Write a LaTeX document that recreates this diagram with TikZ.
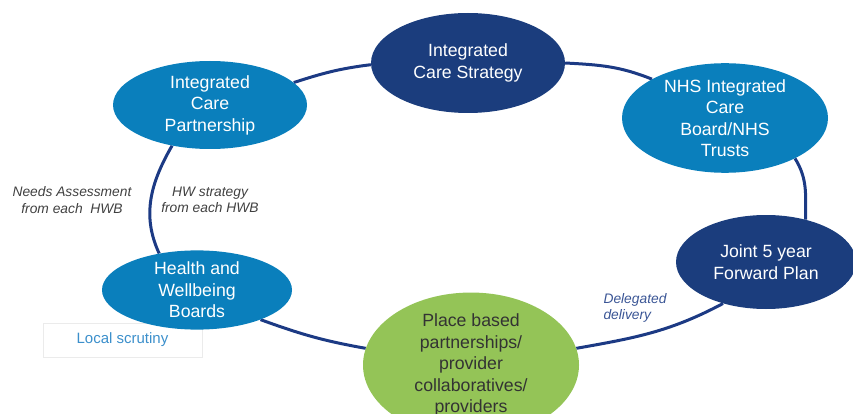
\documentclass[tikz,border=0pt]{standalone}
\usepackage{fontspec}
\setmainfont{Liberation Sans}
\usetikzlibrary{shapes.geometric,backgrounds}
\definecolor{navy}{HTML}{1B3D7D}
\definecolor{midblue}{HTML}{0A7FBC}
\definecolor{leaf}{HTML}{94C457}
\definecolor{linec}{HTML}{1C3A84}
\definecolor{labgray}{HTML}{404040}
\definecolor{delblue}{HTML}{3A5595}
\definecolor{scrut}{HTML}{3B8FCB}
\tikzset{
  stage/.style={ellipse, inner sep=0pt, align=center, font=\fontsize{17.7}{21.5}\selectfont},
  darkstage/.style={stage, fill=navy, text=white},
  bluestage/.style={stage, fill=midblue, text=white},
  greenstage/.style={stage, fill=leaf, text=black!80},
  link/.style={draw=linec, line width=3pt},
  flowlabel/.style={font=\fontsize{13.8}{16.5}\selectfont\itshape, text=labgray, align=center},
}
\begin{document}
\begin{tikzpicture}[x=1pt,y=1pt]
\useasboundingbox (0,0) rectangle (853,-414);
\begin{scope}
\clip (0,0) rectangle (853,-414);
\node[draw=black!8, line width=0.6pt, minimum width=159pt, minimum height=34pt, inner sep=0pt, text=scrut, font=\fontsize{15}{18}\selectfont] (scrutiny) at (122.5,-340) {Local scrutiny};
\node[darkstage, minimum width=194pt, minimum height=100pt] (ics) at (468,-63) {Integrated\\Care Strategy};
\node[bluestage, minimum width=194pt, minimum height=88pt] (icp) at (210,-105) {Integrated\\Care\\Partnership};
\node[bluestage, minimum width=206pt, minimum height=86pt] (nhs) at (725,-118) {NHS Integrated\\Care\\Board/NHS\\Trusts};
\node[darkstage, minimum width=180pt, minimum height=94pt] (jfp) at (766,-262) {Joint 5 year\\Forward Plan};
\node[bluestage, minimum width=190pt, minimum height=74pt] (hwb) at (197,-290) {Health and\\Wellbeing\\Boards};
\node[greenstage, minimum width=216pt, minimum height=106pt] (pbp) at (471,-365) {Place based\\partnerships/\\provider\\collaboratives/\\providers};
\node[flowlabel] (needs) at (72,-200) {Needs Assessment\\from each \ HWB};
\node[flowlabel] (hwstrat) at (210,-200) {HW strategy\\from each HWB};
\node[flowlabel, text=delblue, align=left, anchor=west] (deleg) at (600,-308) {Delegated\\delivery};
\end{scope}
\begin{scope}[on background layer]
\draw[link] (icp.15) to[out=18, in=187] (ics.181);
\draw[link] (ics.0) to[out=-3, in=158] (nhs.152);
\draw[link] (nhs.-30) to[out=-58, in=90] (jfp.47);
\draw[link] (jfp.224) to[out=208, in=10] (pbp.9);
\draw[link] (pbp.171) to[out=170, in=-20] (hwb.-25);
\draw[link] (hwb.136) to[out=115, in=240] (icp.227);
\end{scope}
\end{tikzpicture}
\end{document}
